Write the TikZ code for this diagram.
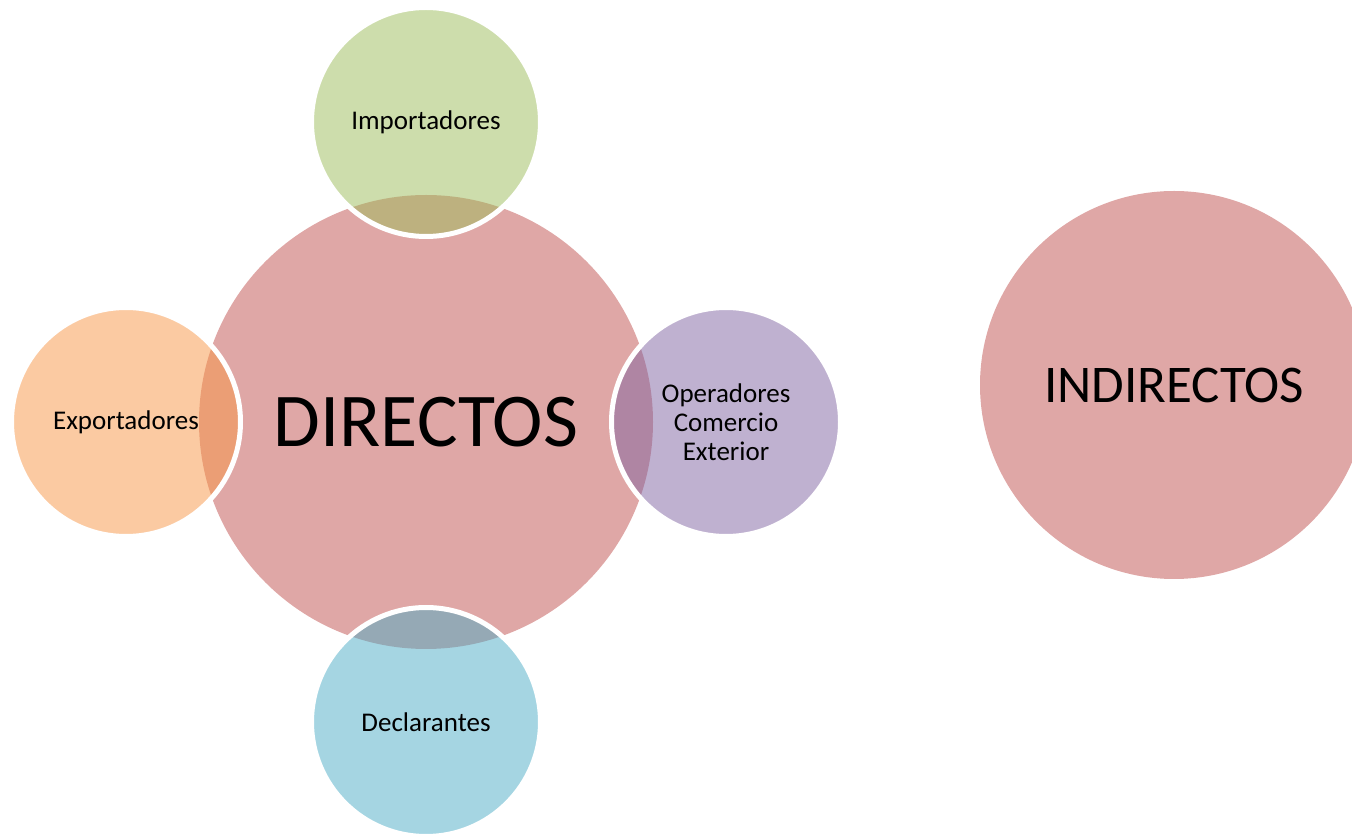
\documentclass[tikz,border=0pt]{standalone}
\usepackage{fontspec}
\setmainfont{Carlito}
\usepackage{tikz}
\usetikzlibrary{shapes,positioning}
\definecolor{accred}{HTML}{C0504D}
\definecolor{accgreen}{HTML}{9BBB59}
\definecolor{accorange}{HTML}{F79646}
\definecolor{accpurple}{HTML}{8064A2}
\definecolor{accblue}{HTML}{4BACC6}
\tikzset{%
	bignode/.style={circle, fill=accred, fill opacity=0.5, text opacity=1, inner sep=0pt},
	smallnode/.style={circle, draw=white, line width=5pt, fill opacity=0.5, text opacity=1, minimum size=229pt, inner sep=0pt, align=center, font=\fontsize{27}{29}\selectfont}
}

\begin{document}
\begin{tikzpicture}[node distance=300pt]
		\useasboundingbox (0,0) rectangle (1352pt,833pt);
		
		\node[bignode, minimum size=454pt, font=\fontsize{76}{80}\selectfont] (directos) at (426pt,411pt) {DIRECTOS};
		
		\node[smallnode, fill=accgreen] (importadores) [above of=directos] {Importadores};
		\node[smallnode, fill=accorange] (exportadores) [left of=directos] {Exportadores};
		\node[smallnode, fill=accpurple] (operadores) [right of=directos] {Operadores\\Comercio\\Exterior};
		\node[smallnode, fill=accblue] (declarantes) [below of=directos] {Declarantes};
		
		\node[bignode, minimum size=388pt, font=\fontsize{53}{60}\selectfont] (indirectos) at (1174pt,448pt) {INDIRECTOS};
	\end{tikzpicture}
\end{document}
